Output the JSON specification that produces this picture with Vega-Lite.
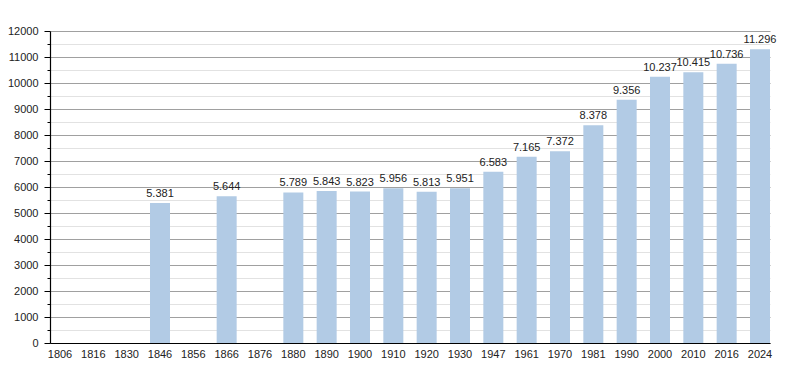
{
  "$schema": "https://vega.github.io/schema/vega-lite/v6.json",
  "width": 720,
  "height": 312,
  "autosize": {"type": "none"},
  "padding": {"left": 50, "top": 31, "right": 30, "bottom": 30},
  "background": "white",
  "config": {
    "locale": {"number": {"decimal": ",", "thousands": ".", "grouping": [3], "currency": ["", ""]}},
    "view": {"stroke": null},
    "font": "Liberation Sans"
  },
  "data": {
    "values": [
      {"year": "1806", "pop": null},
      {"year": "1816", "pop": null},
      {"year": "1830", "pop": null},
      {"year": "1846", "pop": 5381},
      {"year": "1856", "pop": null},
      {"year": "1866", "pop": 5644},
      {"year": "1876", "pop": null},
      {"year": "1880", "pop": 5789},
      {"year": "1890", "pop": 5843},
      {"year": "1900", "pop": 5823},
      {"year": "1910", "pop": 5956},
      {"year": "1920", "pop": 5813},
      {"year": "1930", "pop": 5951},
      {"year": "1947", "pop": 6583},
      {"year": "1961", "pop": 7165},
      {"year": "1970", "pop": 7372},
      {"year": "1981", "pop": 8378},
      {"year": "1990", "pop": 9356},
      {"year": "2000", "pop": 10237},
      {"year": "2010", "pop": 10415},
      {"year": "2016", "pop": 10736},
      {"year": "2024", "pop": 11296}
    ]
  },
  "encoding": {
    "x": {
      "field": "year",
      "type": "ordinal",
      "sort": null,
      "scale": {
        "domain": ["1806", "1816", "1830", "1846", "1856", "1866", "1876", "1880", "1890", "1900", "1910", "1920", "1930", "1947", "1961", "1970", "1981", "1990", "2000", "2010", "2016", "2024"],
        "paddingInner": 0.4,
        "paddingOuter": 0
      },
      "axis": {
        "title": null,
        "labelAngle": 0,
        "ticks": false,
        "labelPadding": 5,
        "labelFontSize": 11,
        "labelColor": "#222",
        "domainColor": "#000",
        "domainWidth": 1.2,
        "grid": false
      }
    },
    "y": {
      "field": "pop",
      "type": "quantitative",
      "scale": {"domain": [0, 12000], "nice": false},
      "axis": {
        "title": null,
        "values": [0, 500, 1000, 1500, 2000, 2500, 3000, 3500, 4000, 4500, 5000, 5500, 6000, 6500, 7000, 7500, 8000, 8500, 9000, 9500, 10000, 10500, 11000, 11500, 12000],
        "format": "d",
        "labelExpr": "datum.value % 1000 === 0 ? format(datum.value, 'd') : ''",
        "grid": true,
        "gridColor": {"condition": {"test": "datum.value % 1000 === 0", "value": "#a0a0a0"}, "value": "#e2e2e2"},
        "gridWidth": 1,
        "tickColor": "#000",
        "tickSize": {"condition": {"test": "datum.value % 1000 === 0", "value": 6}, "value": 3},
        "labelPadding": 6,
        "labelFontSize": 11,
        "labelColor": "#222",
        "domainColor": "#000",
        "domainWidth": 1.2
      }
    }
  },
  "layer": [
    {
      "mark": {"type": "bar", "color": "#b2cbe5"}
    },
    {
      "transform": [{"filter": "datum.pop != null"}],
      "mark": {"type": "text", "baseline": "bottom", "dy": -4, "fontSize": 11, "color": "#222"},
      "encoding": {
        "text": {"field": "pop", "type": "quantitative", "format": ",d"}
      }
    }
  ]
}
